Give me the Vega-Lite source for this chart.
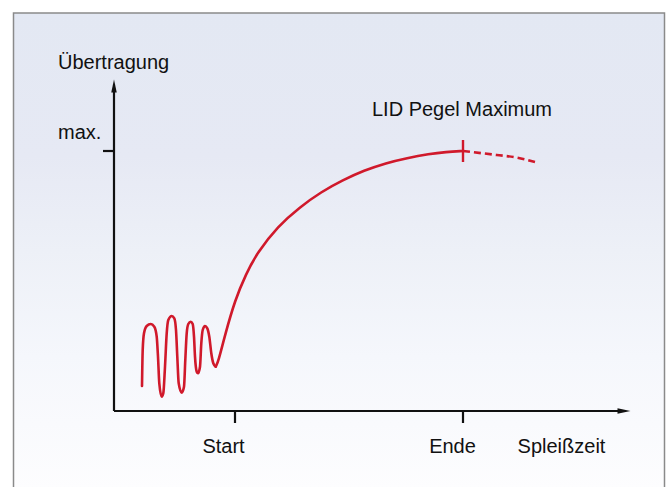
{
  "$schema": "https://vega.github.io/schema/vega-lite/v6.json",
  "autosize": {"type": "none"},
  "width": 516,
  "height": 331,
  "padding": {"left": 114, "top": 80, "right": 39, "bottom": 76},
  "background": "white",
  "config": {"view": {"stroke": null}},
  "datasets": {
    "frame": [{"x": -100.5, "x2": 550.5, "y": 398, "y2": -79}],
    "axes": [
      {"x": 0, "y": 0, "x2": 0, "y2": 322, "id": "yaxis"},
      {"x": 0, "y": 0, "x2": 508, "y2": 0, "id": "xaxis"},
      {"x": -11, "y": 260, "x2": 0, "y2": 260, "id": "maxtick"},
      {"x": 121, "y": 0, "x2": 121, "y2": -12, "id": "start"},
      {"x": 349, "y": 0, "x2": 349, "y2": -12, "id": "ende"}
    ],
    "arrows": [
      {"x": 0, "y": 325, "dir": "up"},
      {"x": 510, "y": 0, "dir": "right"}
    ],
    "wave": [
      {"x": 28, "y": 25},
      {"x": 28.7, "y": 61},
      {"x": 30, "y": 77.7},
      {"x": 32.7, "y": 85},
      {"x": 36.7, "y": 87},
      {"x": 40.3, "y": 84.3},
      {"x": 42.7, "y": 74.3},
      {"x": 44, "y": 54.3},
      {"x": 45.3, "y": 27.7},
      {"x": 47.7, "y": 14.3},
      {"x": 49.3, "y": 17.7},
      {"x": 51, "y": 44.3},
      {"x": 52.7, "y": 77.7},
      {"x": 54.3, "y": 91},
      {"x": 57.7, "y": 95},
      {"x": 60.3, "y": 92.7},
      {"x": 62, "y": 81},
      {"x": 63.3, "y": 54.3},
      {"x": 64.7, "y": 27.7},
      {"x": 67.7, "y": 18.3},
      {"x": 70, "y": 24.3},
      {"x": 71.3, "y": 51},
      {"x": 72.7, "y": 77.7},
      {"x": 74.3, "y": 87},
      {"x": 76.7, "y": 89.3},
      {"x": 78.7, "y": 87},
      {"x": 80, "y": 74.3},
      {"x": 81, "y": 54.3},
      {"x": 82.7, "y": 39.3},
      {"x": 84, "y": 37.7},
      {"x": 86, "y": 44.3},
      {"x": 87.3, "y": 67.7},
      {"x": 88.7, "y": 81},
      {"x": 91, "y": 85},
      {"x": 93.3, "y": 82.7},
      {"x": 95.3, "y": 74.3},
      {"x": 97.3, "y": 57.7},
      {"x": 99.3, "y": 47.7},
      {"x": 101.7, "y": 44.3}
    ],
    "rise": [
      {"x": 101.7, "y": 44.3},
      {"x": 104.3, "y": 49.3},
      {"x": 111, "y": 76},
      {"x": 121, "y": 111},
      {"x": 132, "y": 137},
      {"x": 143, "y": 158},
      {"x": 164, "y": 185},
      {"x": 186, "y": 204},
      {"x": 207, "y": 219},
      {"x": 229, "y": 231},
      {"x": 250, "y": 240.5},
      {"x": 272, "y": 248},
      {"x": 293, "y": 253},
      {"x": 315, "y": 257},
      {"x": 332, "y": 259},
      {"x": 349, "y": 260}
    ],
    "dashed": [
      {"x": 349, "y": 260},
      {"x": 382.7, "y": 256},
      {"x": 402.7, "y": 253.5},
      {"x": 421, "y": 249}
    ],
    "redtick": [{"x": 349, "y": 249, "y2": 271}],
    "labels": [
      {"x": -56, "y": 342, "text": "Übertragung", "align": "left"},
      {"x": -56, "y": 272, "text": "max.", "align": "left"},
      {"x": 348, "y": 295, "text": "LID Pegel Maximum", "align": "center"},
      {"x": 109.5, "y": -42, "text": "Start", "align": "center"},
      {"x": 338.5, "y": -42, "text": "Ende", "align": "center"},
      {"x": 447.5, "y": -42, "text": "Spleißzeit", "align": "center"}
    ]
  },
  "encoding": {
    "x": {"type": "quantitative", "scale": {"domain": [0, 516], "nice": false, "zero": false}, "axis": null},
    "y": {"type": "quantitative", "scale": {"domain": [0, 331], "nice": false, "zero": false}, "axis": null}
  },
  "layer": [
    {
      "data": {"name": "frame"},
      "mark": {
        "type": "rect",
        "clip": false,
        "stroke": "#8a8a8a",
        "strokeWidth": 1.5,
        "fill": {
          "gradient": "linear",
          "x1": 0, "y1": 0, "x2": 0, "y2": 1,
          "stops": [
            {"offset": 0, "color": "#e3e8f3"},
            {"offset": 0.3, "color": "#e6e9f4"},
            {"offset": 0.5, "color": "#edf0f7"},
            {"offset": 0.72, "color": "#f5f7fc"},
            {"offset": 1, "color": "#fdfdfe"}
          ]
        }
      },
      "encoding": {
        "x": {"field": "x", "type": "quantitative"},
        "x2": {"field": "x2"},
        "y": {"field": "y", "type": "quantitative"},
        "y2": {"field": "y2"}
      }
    },
    {
      "data": {"name": "axes"},
      "mark": {"type": "rule", "clip": false, "color": "#111111", "strokeWidth": 2.2},
      "encoding": {
        "x": {"field": "x", "type": "quantitative"},
        "x2": {"field": "x2"},
        "y": {"field": "y", "type": "quantitative"},
        "y2": {"field": "y2"}
      }
    },
    {
      "data": {"name": "arrows"},
      "mark": {"type": "point", "clip": false, "filled": true, "color": "#111111", "size": 170, "opacity": 1},
      "encoding": {
        "x": {"field": "x", "type": "quantitative"},
        "y": {"field": "y", "type": "quantitative"},
        "shape": {
          "field": "dir",
          "type": "nominal",
          "scale": {"domain": ["up", "right"], "range": ["M -0.42 1 L 0 -1 L 0.42 1 Z", "M -1 -0.42 L 1 0 L -1 0.42 Z"]},
          "legend": null
        }
      }
    },
    {
      "data": {"name": "wave"},
      "mark": {"type": "line", "clip": false, "color": "#d0192b", "strokeWidth": 2.6, "interpolate": "monotone", "strokeCap": "round"},
      "encoding": {
        "x": {"field": "x", "type": "quantitative"},
        "y": {"field": "y", "type": "quantitative"}
      }
    },
    {
      "data": {"name": "rise"},
      "mark": {"type": "line", "clip": false, "color": "#d0192b", "strokeWidth": 2.6, "interpolate": "basis", "strokeCap": "round"},
      "encoding": {
        "x": {"field": "x", "type": "quantitative"},
        "y": {"field": "y", "type": "quantitative"}
      }
    },
    {
      "data": {"name": "dashed"},
      "mark": {"type": "line", "clip": false, "color": "#d0192b", "strokeWidth": 2.6, "strokeDash": [7, 4], "interpolate": "monotone"},
      "encoding": {
        "x": {"field": "x", "type": "quantitative"},
        "y": {"field": "y", "type": "quantitative"}
      }
    },
    {
      "data": {"name": "redtick"},
      "mark": {"type": "rule", "clip": false, "color": "#d0192b", "strokeWidth": 2.4},
      "encoding": {
        "x": {"field": "x", "type": "quantitative"},
        "y": {"field": "y", "type": "quantitative"},
        "y2": {"field": "y2"}
      }
    },
    {
      "data": {"name": "labels"},
      "transform": [{"filter": "datum.align == 'left'"}],
      "mark": {"type": "text", "clip": false, "align": "left", "baseline": "alphabetic", "font": "Liberation Sans", "fontSize": 20, "color": "#111111"},
      "encoding": {
        "x": {"field": "x", "type": "quantitative"},
        "y": {"field": "y", "type": "quantitative"},
        "text": {"field": "text"}
      }
    },
    {
      "data": {"name": "labels"},
      "transform": [{"filter": "datum.align == 'center'"}],
      "mark": {"type": "text", "clip": false, "align": "center", "baseline": "alphabetic", "font": "Liberation Sans", "fontSize": 20, "color": "#111111"},
      "encoding": {
        "x": {"field": "x", "type": "quantitative"},
        "y": {"field": "y", "type": "quantitative"},
        "text": {"field": "text"}
      }
    }
  ]
}
